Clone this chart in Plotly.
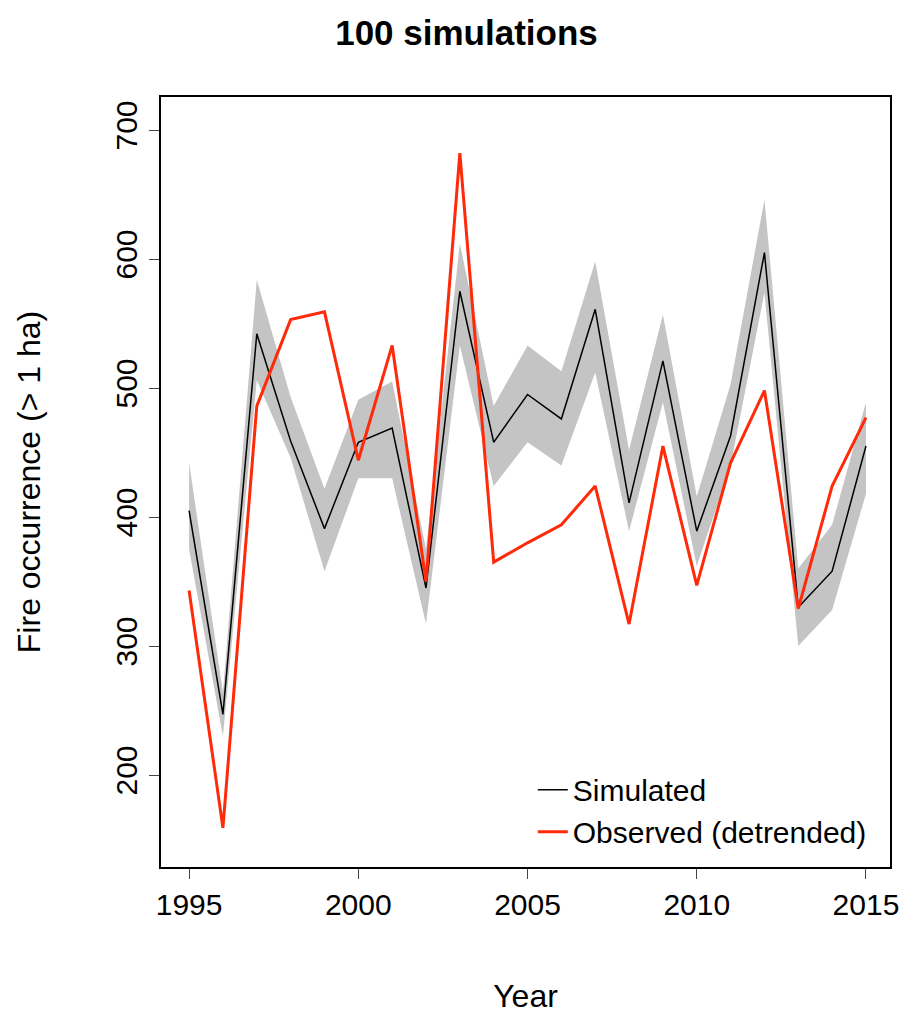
import plotly.graph_objects as go

years = list(range(1995, 2016))
simulated = [405, 247, 542, 459, 391, 458, 469, 345, 575, 458, 495, 476, 561, 411, 521, 389, 463, 605, 330, 358, 455]
sim_upper = [442, 264, 584, 493, 422, 491, 505, 375, 612, 486, 533, 513, 598, 452, 557, 416, 503, 646, 360, 394, 489]
sim_lower = [375, 230, 506, 446, 358, 430, 430, 317, 533, 424, 458, 440, 512, 389, 489, 362, 440, 574, 300, 328, 418]
observed = [343, 159, 486, 553, 559, 444, 533, 350, 682, 365, 380, 394, 424, 317, 455, 347, 442, 498, 329, 424, 477]

fnt = "Liberation Sans, Arial, sans-serif"
fig = go.Figure()
fig.add_trace(go.Scatter(x=years, y=sim_upper, mode="lines", line=dict(width=0), showlegend=False, hoverinfo="skip"))
fig.add_trace(go.Scatter(x=years, y=sim_lower, mode="lines", line=dict(width=0), fill="tonexty",
                         fillcolor="#c4c4c4", showlegend=False, hoverinfo="skip"))
fig.add_trace(go.Scatter(x=years, y=simulated, mode="lines", line=dict(color="black", width=1.5), name="Simulated"))
fig.add_trace(go.Scatter(x=years, y=observed, mode="lines", line=dict(color="#ff2a0a", width=3), name="Observed (detrended)"))

fig.update_layout(
    width=917, height=1015, plot_bgcolor="white", paper_bgcolor="white",
    margin=dict(l=153, r=35, t=89, b=156, autoexpand=False),
    font=dict(family=fnt, size=30, color="black"),
    title=dict(text="<b>100 simulations</b>", x=0.5, xanchor="center", y=0.988, yanchor="top",
               font=dict(size=35)),
    legend=dict(x=0.51, y=0.073, xanchor="left", yanchor="middle", bgcolor="rgba(0,0,0,0)",
                font=dict(size=30), tracegroupgap=0, traceorder="normal"),
    xaxis=dict(range=[1994.17, 2015.71], tickvals=[1995, 2000, 2005, 2010, 2015], ticks="outside",
               ticklen=10, showline=True, mirror=True, linecolor="black", linewidth=1.5,
               tickfont=dict(size=30), showgrid=False, zeroline=False, automargin=False,
               title=dict(text="Year", standoff=65, font=dict(size=32))),
    yaxis=dict(range=[128.7, 725.6], tickvals=[200, 300, 400, 500, 600, 700], ticks="outside",
               ticklen=10, showline=True, mirror=True, linecolor="black", linewidth=1.5,
               tickfont=dict(size=30), showgrid=False, zeroline=False, tickangle=-90, automargin=False,
               title=dict(text="Fire occurrence (> 1 ha)", standoff=60, font=dict(size=32))),
)
fig.write_html("out.html")
